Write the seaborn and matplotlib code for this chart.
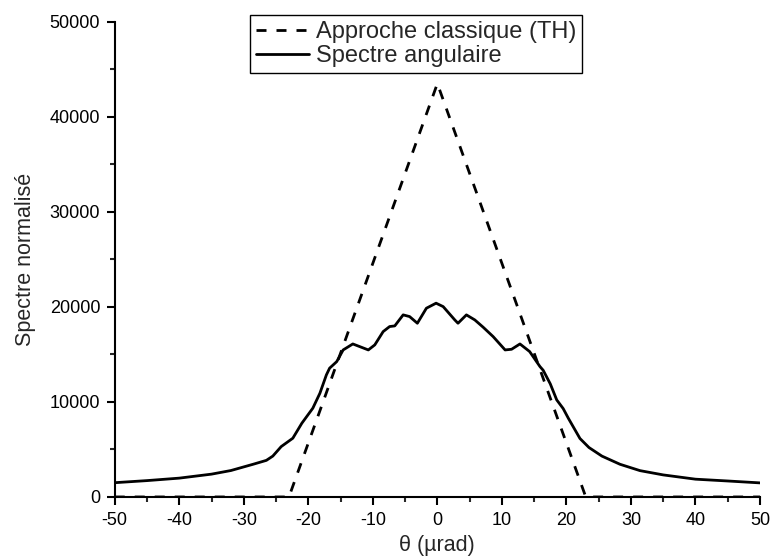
import numpy as np
import pandas as pd
import matplotlib
matplotlib.use("Agg")
import matplotlib.pyplot as plt
from matplotlib.ticker import MultipleLocator
import seaborn as sns

# Solid curve: angular spectrum
theta_spec = [-50, -45, -40, -35, -32, -28.5, -26.5, -25.5, -24.2, -22.4, -21, -19.3,
              -18.2, -17.2, -16.7, -15.6, -14.6, -13.1, -11.8, -10.7, -9.7, -8.4, -7.4,
              -6.6, -5.3, -4.3, -3.1, -1.7, -0.2, 0.9, 2.7, 3.2, 4.5, 5.8, 7.1, 8.65,
              10.5, 11.5, 12.8, 14.3, 15.9, 16.4, 17.5, 18.5, 19.5, 20.3, 22.1, 23.5,
              25.5, 28.3, 31.4, 35, 40, 45, 50]
spectre = [1500, 1720, 1980, 2400, 2780, 3450, 3850, 4300, 5300, 6180, 7760, 9340,
           10920, 12840, 13550, 14240, 15470, 16100, 15760, 15470, 16000, 17400, 17930,
           18000, 19160, 18980, 18280, 19860, 20390, 20030, 18630, 18280, 19160, 18630,
           17860, 16870, 15470, 15540, 16100, 15300, 13720, 13330, 11900, 10210, 9300,
           8280, 6150, 5200, 4300, 3440, 2770, 2320, 1870, 1680, 1480]

# Dashed curve: classical approach (TH)
theta_th = [-50, -23, 0, 23, 50]
classique = [0, 0, 43500, 0, 0]

label_th = "Approche classique (TH)"
label_spec = "Spectre angulaire"

sns.set_style("ticks")
plt.rcParams['font.family'] = ['Liberation Sans', 'DejaVu Sans']
plt.rcParams['axes.unicode_minus'] = False

fig = plt.figure(figsize=(7.7, 5.59), dpi=100)
ax = fig.add_axes([0.149, 0.111, 0.838, 0.850])

df_th = pd.DataFrame({"theta": theta_th, "val": classique})
df_sp = pd.DataFrame({"theta": theta_spec, "val": spectre})

sns.lineplot(data=df_th, x="theta", y="val", ax=ax, color="black", lw=2.0,
             linestyle=(0, (3.6, 3.6)), label=label_th)
sns.lineplot(data=df_sp, x="theta", y="val", ax=ax, color="black", lw=2.0,
             label=label_spec)

ax.set_xlim(-50, 50)
ax.set_ylim(0, 50000)
ax.xaxis.set_major_locator(MultipleLocator(10))
ax.xaxis.set_minor_locator(MultipleLocator(5))
ax.yaxis.set_major_locator(MultipleLocator(10000))
ax.yaxis.set_minor_locator(MultipleLocator(5000))
ax.tick_params(which="major", direction="out", length=6, width=1.5, labelsize=13,
               colors="black", pad=4.5)
ax.tick_params(which="minor", direction="out", length=3.5, width=1.5)
for s in ["top", "right"]:
    ax.spines[s].set_visible(False)
for s in ["left", "bottom"]:
    ax.spines[s].set_linewidth(1.5)
    ax.spines[s].set_color("black")

ax.set_xlabel("θ (µrad)", fontsize=15.5, labelpad=5)
ax.set_ylabel("Spectre normalisé", fontsize=15.5, labelpad=10)

leg = ax.legend(loc="upper left", bbox_to_anchor=(250 / 770, 1 - 15 / 559),
                bbox_transform=fig.transFigure, fontsize=17,
                frameon=True, fancybox=False, edgecolor="black", framealpha=1,
                handlelength=2.25, handletextpad=0.3, borderpad=0.25, labelspacing=0.1,
                borderaxespad=0)
leg.get_frame().set_linewidth(1.0)

fig.savefig("out.png", dpi=100)
